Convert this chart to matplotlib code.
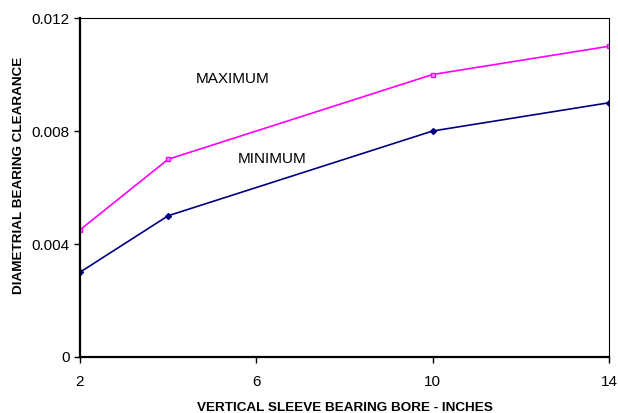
import matplotlib
matplotlib.use("Agg")
import matplotlib.pyplot as plt

plt.rcParams['font.family'] = ['Liberation Sans', 'DejaVu Sans']

bore = [2, 4, 10, 14]
clear_max = [0.0045, 0.007, 0.010, 0.011]
clear_min = [0.003, 0.005, 0.008, 0.009]
xticks = [2, 6, 10, 14]
yticks = [0, 0.004, 0.008, 0.012]
ytick_labels = ['0', '0.004', '0.008', '0.012']

fig = plt.figure(figsize=(6.18, 4.13), dpi=100)
ax = fig.add_axes([0.1294, 0.1356, 0.856, 0.8208])

ax.plot(bore, clear_max, color='#ff00ff', lw=1.2, marker='s', ms=3.5,
        mfc='#ff99ff', mec='#ff00ff', mew=1)
ax.plot(bore, clear_min, color='#000080', lw=1.2, marker='D', ms=3,
        mfc='#000080', mec='#000080')

ax.text(4.63, 0.0097, 'MAXIMUM', fontsize=11)
ax.text(5.58, 0.00687, 'MINIMUM', fontsize=11)

ax.set_xlim(2, 14)
ax.set_ylim(0, 0.012)
ax.set_xticks(xticks)
ax.set_yticks(yticks)
ax.set_yticklabels(ytick_labels)
ax.tick_params(direction='out', length=4, labelsize=11, width=1)
ax.tick_params(axis='x', pad=9)
for s in ['left', 'bottom']:
    ax.spines[s].set_linewidth(1.6)
for s in ['top', 'right']:
    ax.spines[s].set_linewidth(0.8)

ax.set_xlabel('VERTICAL SLEEVE BEARING BORE - INCHES', fontsize=9.7,
              fontweight='bold', labelpad=9)
ax.set_ylabel('DIAMETRIAL BEARING CLEARANCE', fontsize=9.7,
              fontweight='bold')
ax.yaxis.set_label_coords(-0.104, 0.535)

fig.savefig('out.png', dpi=100)
